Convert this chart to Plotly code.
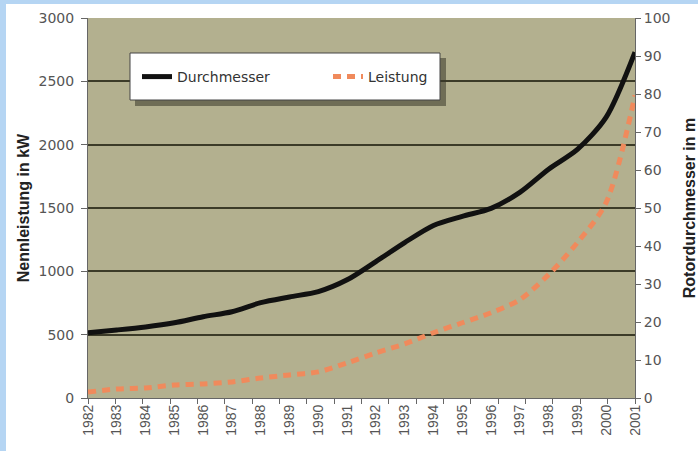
import plotly.graph_objects as go

# ---- data ----
years = [str(y) for y in range(1982, 2002)]
durchmesser_m = [17.2, 17.9, 18.7, 19.8, 21.4, 22.7, 25.1, 26.6, 28.0, 31.1,
                 35.9, 40.9, 45.4, 47.8, 49.9, 54.1, 60.2, 65.4, 73.9, 91.0]
leistung_kw = [47, 71, 79, 103, 111, 127, 158, 182, 206, 277,
               356, 427, 515, 594, 673, 776, 974, 1227, 1544, 2390]
left_ticks = [0, 500, 1000, 1500, 2000, 2500, 3000]
right_ticks = list(range(0, 101, 10))

# ---- layout geometry (pixels) ----
W, H = 698, 451
L, R, T, B = 88, 635, 18, 398
pw, ph = R - L, B - T

def px(x):
    return (x - L) / pw

def py(y):
    return 1 - (y - T) / ph

fig = go.Figure()
fig.add_trace(go.Scatter(
    x=years, y=durchmesser_m, name="Durchmesser", mode="lines", yaxis="y2",
    line=dict(color="#111111", width=5, shape="spline", smoothing=0.8),
))
fig.add_trace(go.Scatter(
    x=years, y=leistung_kw, name="Leistung", mode="lines", yaxis="y",
    line=dict(color="#f08a5c", width=5, dash="8px,6px", shape="spline", smoothing=0.8),
))
# invisible helper trace so the boundary-tick axis is drawn
fig.add_trace(go.Scatter(
    x=list(range(len(years))), y=[None] * len(years), xaxis="x2", yaxis="y",
    mode="lines", showlegend=False, hoverinfo="skip",
))

tickfont_y = dict(family="DejaVu Sans", size=14, color="#555555")
titlefont = dict(family="Liberation Sans", size=16, color="#222222", weight="bold")

boundaries = [i - 0.5 for i in range(len(years) + 1)]

fig.update_layout(
    width=W, height=H,
    margin=dict(l=L, r=W - R, t=T, b=H - B, autoexpand=False),
    paper_bgcolor="white",
    plot_bgcolor="#b3b08f",
    showlegend=True,
    legend=dict(
        orientation="h", x=px(137), y=py(77), xanchor="left", yanchor="middle",
        bgcolor="rgba(0,0,0,0)", borderwidth=0,
        font=dict(family="DejaVu Sans", size=14, color="#333333"),
        entrywidth=146, entrywidthmode="pixels",
    ),
    xaxis=dict(
        type="category", showgrid=False, tickangle=-90,
        tickfont=dict(family="Liberation Sans", size=14, color="#555555"),
        showline=True, linecolor="#666666", linewidth=1,
        ticks="", automargin=False,
    ),
    xaxis2=dict(
        overlaying="x", anchor="y", side="bottom", range=[-0.5, len(years) - 0.5],
        tickvals=boundaries, showticklabels=False, showgrid=False, zeroline=False,
        ticks="outside", ticklen=5, tickcolor="#666666", showline=False,
    ),
    yaxis=dict(
        range=[0, 3000], tickvals=left_ticks, ticktext=[str(v) for v in left_ticks],
        showgrid=True, gridcolor="#3c3b28", gridwidth=1.5,
        zeroline=False, showline=True, linecolor="#666666", linewidth=1,
        ticks="outside", ticklen=6, tickcolor="#666666", ticklabelstandoff=4,
        tickfont=tickfont_y, automargin=False,
        title=dict(text="Nennleistung in kW", font=titlefont, standoff=4),
    ),
    yaxis2=dict(
        range=[0, 100], tickvals=right_ticks, ticktext=[str(v) for v in right_ticks],
        overlaying="y", side="right", showgrid=False, zeroline=False,
        showline=True, linecolor="#666666", linewidth=1,
        ticks="outside", ticklen=5, tickcolor="#666666",
        tickfont=tickfont_y, automargin=False,
        title=dict(text="Rotordurchmesser in m", font=titlefont, standoff=15),
    ),
    shapes=[
        # blue frame strips
        dict(type="rect", xref="paper", yref="paper", x0=px(0), x1=px(W), y0=py(0), y1=py(4),
             fillcolor="#b5d5f3", line=dict(width=0), layer="above"),
        dict(type="rect", xref="paper", yref="paper", x0=px(0), x1=px(6), y0=py(0), y1=py(H),
             fillcolor="#b5d5f3", line=dict(width=0), layer="above"),
        # legend shadow + box
        dict(type="rect", xref="paper", yref="paper", x0=px(135), x1=px(446), y0=py(58), y1=py(106),
             fillcolor="rgba(55,55,40,0.55)", line=dict(width=0), layer="above"),
        dict(type="rect", xref="paper", yref="paper", x0=px(130), x1=px(440), y0=py(53), y1=py(100),
             fillcolor="white", line=dict(color="#444444", width=1), layer="above"),
    ],
)

fig.write_html(
    "out.html",
    config={"displayModeBar": False},
    post_script="document.body.style.margin='0';document.body.style.overflow='hidden';",
)
